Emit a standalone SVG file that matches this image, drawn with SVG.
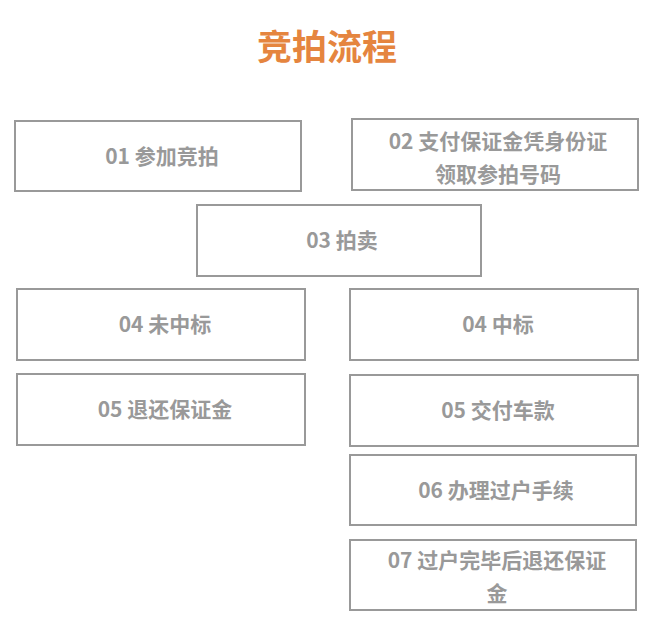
<svg xmlns="http://www.w3.org/2000/svg" width="659" height="630" viewBox="0 0 659 630">
<style>
rect{fill:#fff;stroke:#999;stroke-width:2}
text{font-family:"Noto Sans CJK SC","Noto Sans",sans-serif;font-weight:bold;fill:#999;font-size:21px;text-anchor:middle}
.t{fill:#E5853F;font-size:35px}
</style>
<rect x="0" y="0" width="659" height="630" style="stroke:none"/>
<text class="t" x="327" y="60">竞拍流程</text>
<g id="n1"><rect x="15" y="121" width="286" height="70"/><text x="162" y="164">01 参加竞拍</text></g>
<g id="n2"><rect x="352" y="119" width="286" height="71"/><text x="498" y="149">02 支付保证金凭身份证</text><text x="498" y="182">领取参拍号码</text></g>
<g id="n3"><rect x="197" y="205" width="284" height="71"/><text x="342" y="248">03 拍卖</text></g>
<g id="n4l"><rect x="17" y="289" width="288" height="71"/><text x="165" y="332">04 未中标</text></g>
<g id="n4r"><rect x="350" y="289" width="288" height="71"/><text x="498" y="332">04 中标</text></g>
<g id="n5l"><rect x="17" y="374" width="288" height="71"/><text x="165" y="417">05 退还保证金</text></g>
<g id="n5r"><rect x="350" y="375" width="288" height="71"/><text x="498" y="418">05 交付车款</text></g>
<g id="n6"><rect x="350" y="455" width="286" height="70"/><text x="496" y="498">06 办理过户手续</text></g>
<g id="n7"><rect x="350" y="540" width="286" height="70"/><text x="497" y="568">07 过户完毕后退还保证</text><text x="497" y="601">金</text></g>
<g id="connectors"></g>
</svg>
